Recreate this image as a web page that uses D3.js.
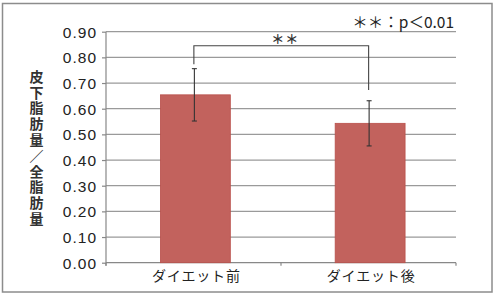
<!DOCTYPE html>
<html><head><meta charset="utf-8">
<script src="https://cdn.jsdelivr.net/npm/d3@7"></script>
<style>
html,body{margin:0;padding:0;background:#fff;}
svg{display:block;}
</style></head>
<body>
<svg id="c" width="500" height="295"></svg>
<script>
const categories = ["ダイエット前", "ダイエット後"];
const means = [0.654, 0.543];
const errors = [0.102, 0.088];
const yTicks = [0, 0.1, 0.2, 0.3, 0.4, 0.5, 0.6, 0.7, 0.8, 0.9];
const yTitle = "皮下脂肪量／全脂肪量";
const sigLabel = "＊＊";
const noteLabel = "＊＊：p＜0.01";
const bracketLevel = 0.845;
const bracketLegEnds = [0.773, 0.673];

const svg = d3.select("#c");
const plotL = 106, plotR = 456, plotT = 31.7, plotB = 262.7;

const y = d3.scaleLinear().domain([0, 0.9]).range([plotB, plotT]);
const x = d3.scaleBand().domain(categories).range([108, 457.5]).padding(0);
const axisX = d3.scaleBand().domain(categories).range([plotL, plotR]).padding(0);
const bw = x.bandwidth() * 0.4;
const cx = c => x(c) + x.bandwidth() / 2;

// outer frame
svg.append("rect").attr("x", 2.5).attr("y", 3.5).attr("width", 489.5).attr("height", 288.5)
  .attr("fill", "none").attr("stroke", "#8c8c8c").attr("stroke-width", 1.5);

// gridlines
svg.append("g").selectAll("line").data(yTicks.filter(d => d > 0)).join("line")
  .attr("x1", plotL).attr("x2", plotR)
  .attr("y1", d => y(d)).attr("y2", d => y(d))
  .attr("stroke", "#9a9a9a").attr("stroke-width", 1.3);

// y axis
const yAxis = d3.axisLeft(y).tickValues(yTicks).tickFormat(d3.format(".2f")).tickSize(4).tickPadding(5);
const gy = svg.append("g").attr("transform", `translate(${plotL},0)`).call(yAxis);
gy.select(".domain").remove();
gy.append("line").attr("x1", 0).attr("x2", 0).attr("y1", plotT).attr("y2", plotB + 3).attr("stroke", "#888").attr("stroke-width", 1.2);
gy.selectAll(".tick line").attr("stroke", "#888").attr("stroke-width", 1.2);
gy.selectAll(".tick text").attr("fill", "#222").attr("font-family", "'Liberation Sans', Arial, sans-serif")
  .attr("font-size", 15.5).attr("letter-spacing", 1.0).attr("dy", "0.36em");

// x axis
const xAxis = d3.axisBottom(axisX).tickSize(0).tickFormat("");
const gx = svg.append("g").attr("transform", `translate(0,${plotB})`).call(xAxis);
gx.select(".domain").attr("stroke", "#888").attr("stroke-width", 1.2).attr("d", `M${plotL},0H${plotR}`);
const bounds = [plotL].concat(categories.map(c => axisX(c) + axisX.bandwidth()));
gx.append("g").selectAll("line").data(bounds).join("line")
  .attr("x1", d => d).attr("x2", d => d).attr("y1", 0).attr("y2", 3)
  .attr("stroke", "#888").attr("stroke-width", 1.2);

// bars
svg.append("g").selectAll("rect").data(categories).join("rect")
  .attr("x", c => cx(c) - bw / 2).attr("width", bw)
  .attr("y", (c, i) => y(means[i])).attr("height", (c, i) => y(0) - y(means[i]))
  .attr("fill", "#c2625d").attr("stroke", "#b9504b").attr("stroke-width", 0.8);

// error bars
const eg = svg.append("g").attr("stroke", "#333").attr("stroke-width", 1.1);
categories.forEach((c, i) => {
  const xc = cx(c) - 1;
  eg.append("line").attr("x1", xc).attr("x2", xc).attr("y1", y(means[i] + errors[i])).attr("y2", y(means[i] - errors[i]));
  [means[i] + errors[i], means[i] - errors[i]].forEach(v => {
    eg.append("line").attr("x1", xc - 2.5).attr("x2", xc + 2.5).attr("y1", y(v)).attr("y2", y(v));
  });
});

// significance bracket
const bx = categories.map(c => cx(c) - 1.5);
svg.append("path")
  .attr("d", `M${bx[0]},${y(bracketLegEnds[0])}V${y(bracketLevel)}H${bx[1]}V${y(bracketLegEnds[1])}`)
  .attr("fill", "none").attr("stroke", "#444").attr("stroke-width", 1.1);
svg.append("text").attr("x", (bx[0] + bx[1]) / 2 + 4).attr("y", 43.5)
  .attr("text-anchor", "middle").attr("font-family", "'Noto Sans CJK JP', sans-serif")
  .attr("font-size", 13).attr("letter-spacing", 1).attr("font-weight", "bold").attr("fill", "#333").text(sigLabel);

// note
svg.append("text").attr("x", 454).attr("y", 28).attr("text-anchor", "end")
  .attr("font-family", "'Noto Sans CJK JP', sans-serif").attr("font-size", 15.5).attr("fill", "#222")
  .text(noteLabel);

// x labels
svg.append("g").selectAll("text").data(categories).join("text")
  .attr("x", c => cx(c) + 1).attr("y", 281).attr("text-anchor", "middle")
  .attr("font-family", "'Noto Sans CJK JP', sans-serif").attr("font-size", 14)
  .attr("letter-spacing", 0.8).attr("fill", "#222").text(c => c);

// y title (vertical writing)
svg.append("text").attr("x", 36.5).attr("y", 69.5)
  .style("writing-mode", "vertical-rl").style("text-orientation", "upright")
  .attr("font-family", "'Noto Sans CJK JP', sans-serif")
  .attr("font-size", 14).attr("letter-spacing", 1.8).attr("font-weight", "bold").attr("fill", "#333")
  .text(yTitle);
</script>
</body></html>
